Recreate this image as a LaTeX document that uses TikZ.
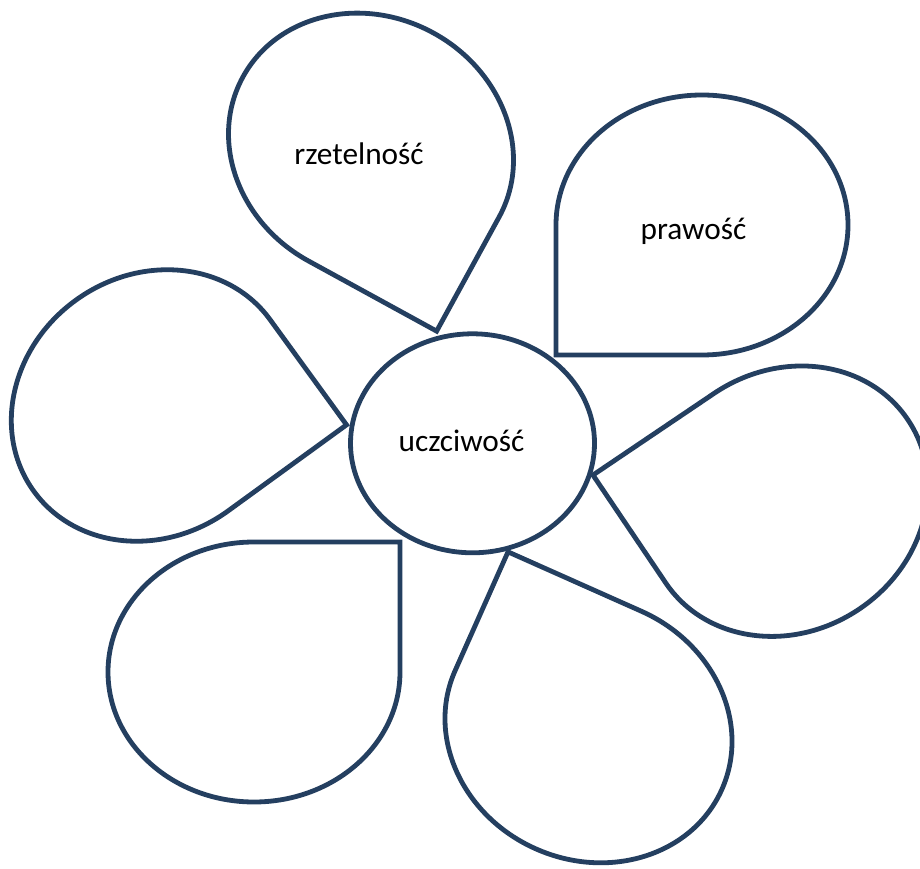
\documentclass[tikz,border=0pt]{standalone}
\usepackage{fontspec}
\setmainfont{Carlito}
\usetikzlibrary{shapes.geometric}
\definecolor{petalblue}{RGB}{36,63,96}
\newcommand\petalN[3]{\draw[outline, shift={(#1,#2)}, rotate=#3] (-146,-130) -- (0,-130) arc[start angle=-90, end angle=180, x radius=146, y radius=130] -- cycle;}
\newcommand\petalM[3]{\draw[outline, shift={(#1,#2)}, rotate=#3] (146,-130) -- (146,0) arc[start angle=0, end angle=270, x radius=146, y radius=130] -- cycle;}
\begin{document}
\begin{tikzpicture}[x=1pt,y=1pt,
  outline/.style={draw=petalblue, line width=4.8pt, fill=white, line join=miter},
  lbl/.style={anchor=base, font=\fontsize{31.3}{37}\selectfont, text=black, inner sep=0pt}]
\useasboundingbox (0,0) rectangle (920,868);
\clip (0,0) rectangle (920,868);
% petals
\petalM{371}{721}{-28.7}
\petalN{702}{643}{0}
\petalM{786.7}{366.8}{-146}
\petalM{588.5}{138}{156}
\petalN{254}{196}{180}
\petalM{152}{462.5}{36}
% centre
\node[outline, ellipse, minimum width=244pt, minimum height=219pt, inner sep=0pt] (centre) at (472.5,424.7) {};
% labels
\node[lbl] (t0) at (461.5,416) {uczciwość};
\node[lbl] (t1) at (359,703) {rzetelność};
\node[lbl] (t2) at (693.5,628) {prawość};
\end{tikzpicture}
\end{document}
